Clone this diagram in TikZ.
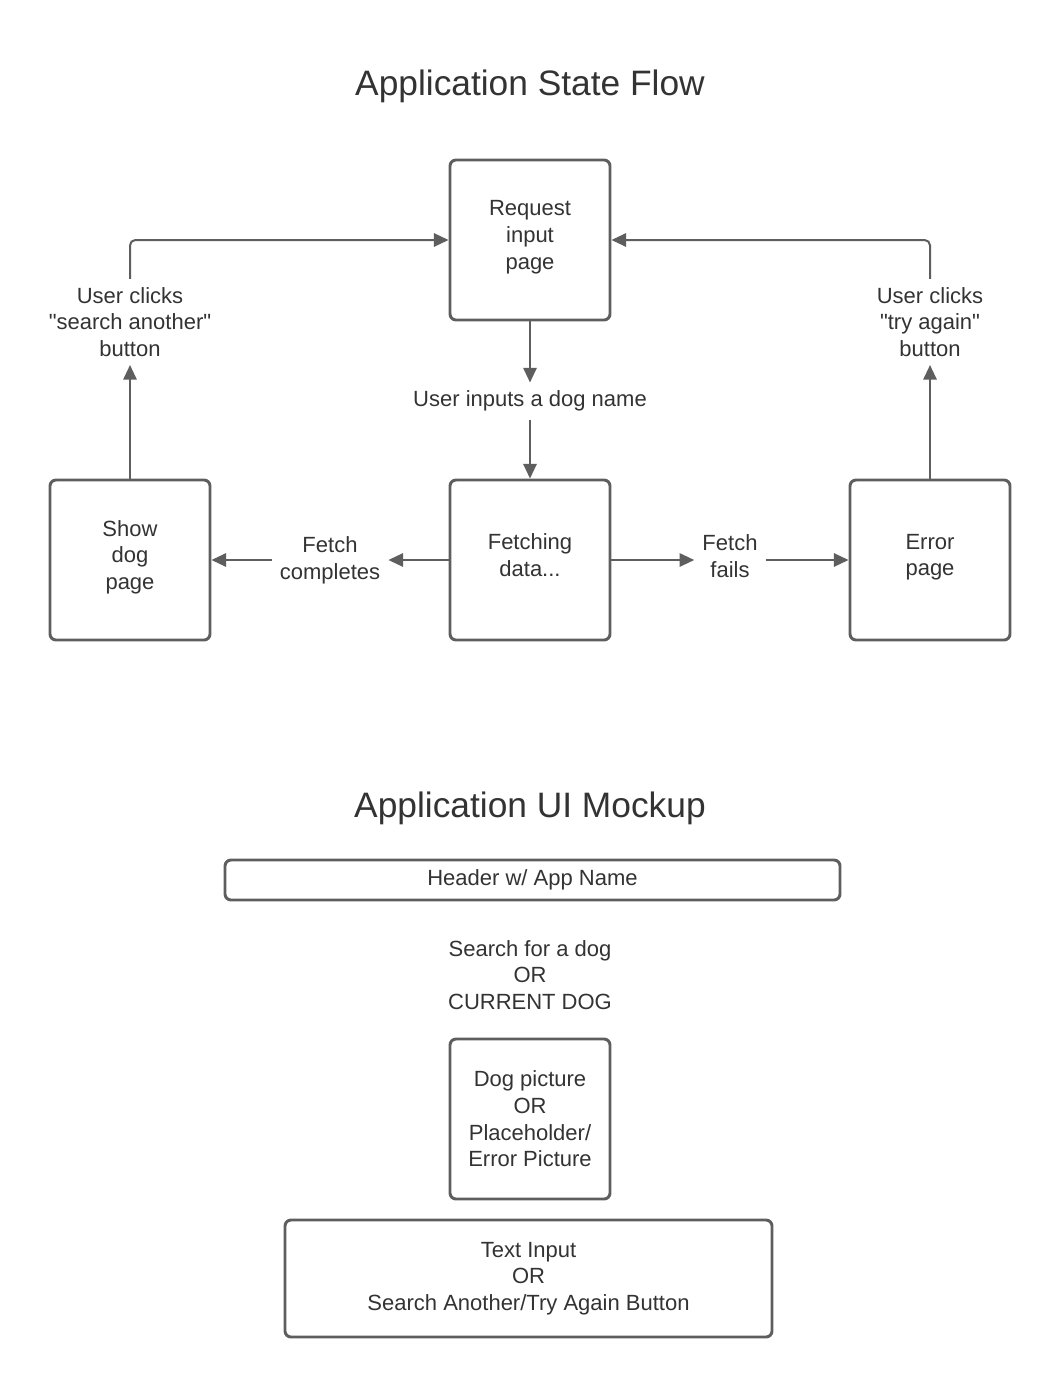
\documentclass[tikz,border=0pt]{standalone}
\usepackage{fontspec}
\setmainfont{Liberation Sans}
\usetikzlibrary{arrows.meta}
\definecolor{ln}{HTML}{5E5E5E}
\definecolor{tx}{HTML}{333333}
\newcommand\lblfnt{\fontsize{16.5pt}{20pt}\selectfont}
\newcommand\ttlfnt{\fontsize{26.5pt}{32pt}\selectfont}
\begin{document}
\begin{tikzpicture}[x=0.75pt,y=-0.75pt,
  box/.style={draw=ln, line width=2.2pt, rounded corners=4.5pt, minimum width=120pt, minimum height=120pt, align=center, text=tx, font=\lblfnt, inner sep=0pt},
  statebox/.style={box, text depth=7.5pt},
  lbl/.style={align=center, text=tx, font=\lblfnt, inner sep=6pt},
  ttl/.style={text=tx, font=\ttlfnt, inner sep=0pt},
  arr/.style={draw=ln, line width=1.5pt, -{Triangle[length=11pt,width=10pt]}}]
\useasboundingbox (0,0) rectangle (1060,1377);
\fill[white] (0,0) rectangle (1060,1377);

% titles
\node[ttl] (t1) at (530,86) {Application State Flow};
\node[ttl] (t2) at (530,808) {Application UI Mockup};

% state boxes
\node[statebox] (req) at (530,240) {Request\\input\\page};
\node[statebox] (fetch) at (530,560) {Fetching\\data...};
\node[statebox] (show) at (130,560) {Show\\dog\\page};
\node[statebox] (err) at (930,560) {Error\\page};

% labels
\node[lbl] (uin) at (530,401) {User inputs a dog name};
\node[lbl] (usa) at (130,322) {User clicks\\\textquotedbl search another\textquotedbl\\button};
\node[lbl] (uta) at (930,322) {User clicks\\\textquotedbl try again\textquotedbl\\button};
\node[lbl] (fc) at (330,560) {Fetch\\completes};
\node[lbl] (ff) at (730,556) {Fetch\\fails};

% connectors
\draw[arr] (req.south) -- (uin.north);
\draw[arr] (uin.south) -- (fetch.north);
\draw[arr] (fetch.west) -- (fetch.west -| fc.east);
\draw[arr] (fetch.west -| fc.west) -- (show.east);
\draw[arr] (fetch.east) -- (fetch.east -| ff.west);
\draw[arr] (fetch.east -| ff.east) -- (err.west);
\draw[arr] (show.north) -- (usa.south);
\draw[arr, rounded corners=4pt] (usa.north) |- (req.west);
\draw[arr] (err.north) -- (uta.south);
\draw[arr, rounded corners=4pt] (uta.north) |- (req.east);

% mockup
\node[box, minimum width=461.25pt, minimum height=30pt] (hdr) at (532.5,880) {Header w/ App Name};
\node[lbl] (srch) at (530,975) {Search for a dog\\OR\\CURRENT DOG};
\node[box] (pic) at (530,1119) {Dog picture\\OR\\Placeholder/\\Error Picture};
\node[box, minimum width=365.25pt, minimum height=87.75pt] (inp) at (528.5,1278.5) {Text Input\\OR\\Search Another/Try Again Button};
\end{tikzpicture}
\end{document}
